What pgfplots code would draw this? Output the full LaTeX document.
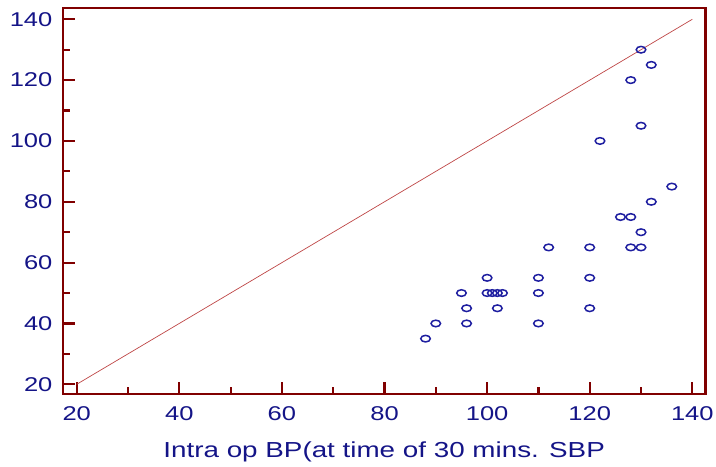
\documentclass[border=0pt]{standalone}
\usepackage{pgfplots}
\pgfplotsset{compat=1.18}
\usepackage{fontspec}
\setmainfont{Liberation Sans}[FakeStretch=1.28]
\definecolor{frame}{RGB}{128,0,0}
\definecolor{txt}{RGB}{20,20,135}
\definecolor{mk}{RGB}{30,30,160}
\definecolor{ln}{RGB}{190,70,70}
\begin{document}
\begin{tikzpicture}
\begin{axis}[
  width=321.35bp, height=193.15bp, scale only axis,
  xmin=17.29, xmax=142.57, ymin=16.71, ymax=143.71,
  xtick={20,40,...,140}, ytick={20,40,...,140},
  minor tick num=1,
  tick pos=left, tick align=inside,
  major tick length=6bp, minor tick length=3.8bp,
  every tick/.style={frame, line width=1.1bp},
  axis line style={frame, line width=1.1bp},
  /pgf/number format/assume math mode=true,
  tick label style={txt, font=\fontsize{10}{12}\selectfont},
  xticklabel style={yshift=-2.4pt},
  yticklabel style={xshift=-1.7pt},
  xlabel={Intra op BP(at time of 30 mins. SBP},
  xlabel style={txt, font=\fontsize{10.9}{13}\selectfont, at={(axis description cs:0.5,0)}, anchor=base, yshift=-31.8bp},
  clip=false,
]
\addplot[ln, line width=0.35bp] coordinates {(20,20) (140,140)};
\addplot[only marks, mark=o, mk, mark size=1.65bp, mark options={xscale=1.45, line width=0.75bp}] coordinates {
(88,35) (90,40) (95,50) (96,45) (96,40) (100,55) (100,50) (101,50) (102,50) (103,50)
(102,45) (110,55) (110,50) (110,40) (112,65) (120,65) (120,55) (120,45) (122,100)
(126,75) (128,75) (128,65) (128,120) (130,130) (130,105) (130,70) (130,65)
(132,125) (132,80) (136,85)};
\coordinate (SW) at (rel axis cs:0,0);
\coordinate (NE) at (rel axis cs:1,1);
\end{axis}
\pgfresetboundingbox
\path ([shift={(-31.4bp,-36.35bp)}]SW) rectangle ([shift={(5.25bp,4bp)}]NE);
\end{tikzpicture}
\end{document}
